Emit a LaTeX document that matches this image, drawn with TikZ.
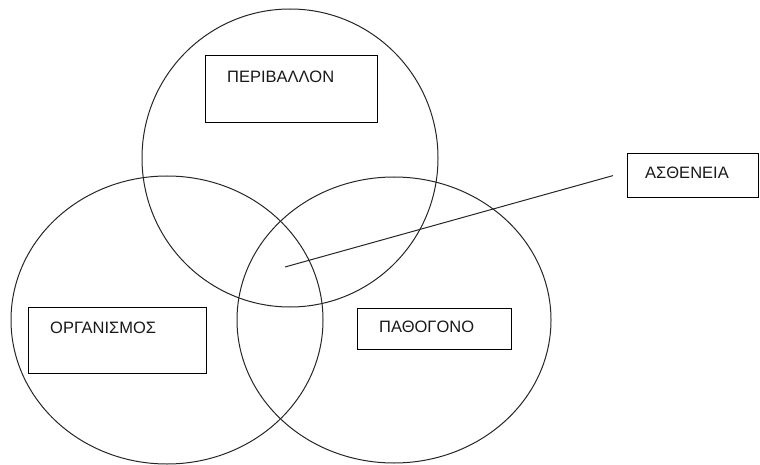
\documentclass[tikz,border=0pt]{standalone}
\usepackage{fontspec}
\setmainfont{Liberation Sans}
\usepackage{tikz}
\usetikzlibrary{positioning}
\tikzstyle{ring} = [draw=black!85, line width=1pt]
\tikzstyle{box} = [rectangle, draw=black, line width=1.2pt, anchor=north west, inner sep=0pt]
\tikzstyle{boxtext} = [anchor=west, inner sep=0pt, text=black!90, font=\fontsize{16.5}{20}\selectfont]
\tikzstyle{pointer} = [draw=black!85, line width=1pt]

\begin{document}
\begin{tikzpicture}[x=1pt, y=-1pt] % one unit = one pixel of the page
			
			\useasboundingbox (0,0) rectangle (760,465);
			
			% the three circles
			\draw [ring] (290,158) ellipse [x radius=148pt, y radius=149pt];
			\draw [ring] (167,320) ellipse [x radius=156pt, y radius=144pt];
			\draw [ring] (394,320) ellipse [x radius=157pt, y radius=143pt];
			
			\node (envbox) [box, minimum width=172pt, minimum height=67pt] at (205,55) {};
			\node (envtext) [boxtext] at ([shift={(22,22)}]envbox.north west) {ΠΕΡΙΒΑΛΛΟΝ};
			\node (orgbox) [box, minimum width=178pt, minimum height=66pt] at (28,307) {};
			\node (orgtext) [boxtext] at ([shift={(22,21)}]orgbox.north west) {ΟΡΓΑΝΙΣΜΟΣ};
			\node (pathbox) [box, minimum width=154pt, minimum height=41pt] at (357,308) {};
			\node (pathtext) [boxtext] at ([shift={(22,19)}]pathbox.north west) {ΠΑΘΟΓΟΝΟ};
			\node (disbox) [box, minimum width=131pt, minimum height=44pt] at (627,153) {};
			\node (distext) [boxtext] at ([shift={(18,20)}]disbox.north west) {ΑΣΘΕΝΕΙΑ};
			
			\coordinate (core) at (285,267); % middle of the three circles
			\draw [pointer] ([xshift=-14pt]disbox.west) -- (core);
			
		\end{tikzpicture}
\end{document}
